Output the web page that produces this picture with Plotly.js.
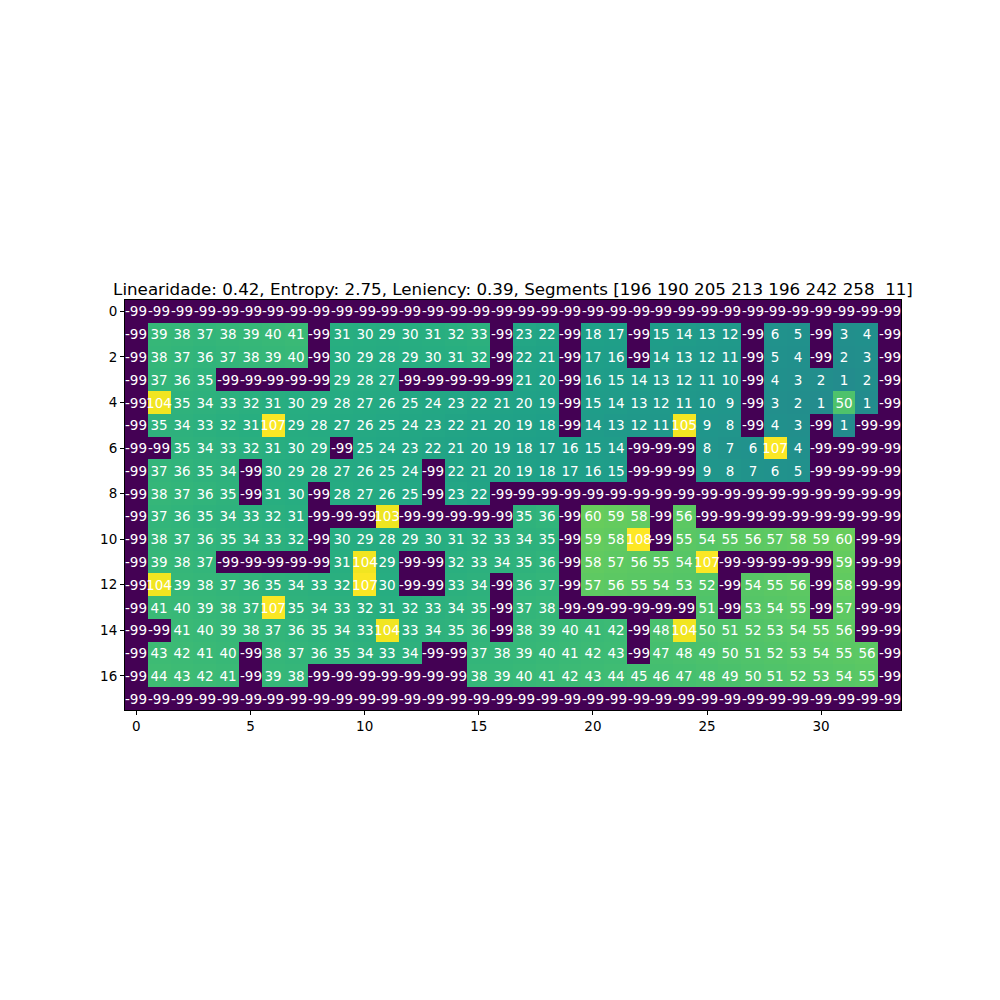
<!DOCTYPE html>
<html>
<head>
<meta charset="utf-8">
<script src="https://cdn.plot.ly/plotly-3.0.1.min.js"></script>
<style>html,body{margin:0;padding:0;background:#fff;}</style>
</head>
<body>
<div id="chart" style="width:1000px;height:1000px;"></div>
<script>
const N = -99;
const row0  = [N,N,N,N,N,N,N,N,N,N,N,N,N,N,N,N,N,N,N,N,N,N,N,N,N,N,N,N,N,N,N,N,N,N];
const row1  = [N,39,38,37,38,39,40,41,N,31,30,29,30,31,32,33,N,23,22,N,18,17,N,15,14,13,12,N,6,5,N,3,4,N];
const row2  = [N,38,37,36,37,38,39,40,N,30,29,28,29,30,31,32,N,22,21,N,17,16,N,14,13,12,11,N,5,4,N,2,3,N];
const row3  = [N,37,36,35,N,N,N,N,N,29,28,27,N,N,N,N,N,21,20,N,16,15,14,13,12,11,10,N,4,3,2,1,2,N];
const row4  = [N,104,35,34,33,32,31,30,29,28,27,26,25,24,23,22,21,20,19,N,15,14,13,12,11,10,9,N,3,2,1,50,1,N];
const row5  = [N,35,34,33,32,31,107,29,28,27,26,25,24,23,22,21,20,19,18,N,14,13,12,11,105,9,8,N,4,3,N,1,N,N];
const row6  = [N,N,35,34,33,32,31,30,29,N,25,24,23,22,21,20,19,18,17,16,15,14,N,N,N,8,7,6,107,4,N,N,N,N];
const row7  = [N,37,36,35,34,N,30,29,28,27,26,25,24,N,22,21,20,19,18,17,16,15,N,N,N,9,8,7,6,5,N,N,N,N];
const row8  = [N,38,37,36,35,N,31,30,N,28,27,26,25,N,23,22,N,N,N,N,N,N,N,N,N,N,N,N,N,N,N,N,N,N];
const row9  = [N,37,36,35,34,33,32,31,N,N,N,103,N,N,N,N,N,35,36,N,60,59,58,N,56,N,N,N,N,N,N,N,N,N];
const row10 = [N,38,37,36,35,34,33,32,N,30,29,28,29,30,31,32,33,34,35,N,59,58,108,N,55,54,55,56,57,58,59,60,N,N];
const row11 = [N,39,38,37,N,N,N,N,N,31,104,29,N,N,32,33,34,35,36,N,58,57,56,55,54,107,N,N,N,N,N,59,N,N];
const row12 = [N,104,39,38,37,36,35,34,33,32,107,30,N,N,33,34,N,36,37,N,57,56,55,54,53,52,N,54,55,56,N,58,N,N];
const row13 = [N,41,40,39,38,37,107,35,34,33,32,31,32,33,34,35,N,37,38,N,N,N,N,N,N,51,N,53,54,55,N,57,N,N];
const row14 = [N,N,41,40,39,38,37,36,35,34,33,104,33,34,35,36,N,38,39,40,41,42,N,48,104,50,51,52,53,54,55,56,N,N];
const row15 = [N,43,42,41,40,N,38,37,36,35,34,33,34,N,N,37,38,39,40,41,42,43,N,47,48,49,50,51,52,53,54,55,56,N];
const row16 = [N,44,43,42,41,N,39,38,N,N,N,N,N,N,N,38,39,40,41,42,43,44,45,46,47,48,49,50,51,52,53,54,55,N];
const row17 = [N,N,N,N,N,N,N,N,N,N,N,N,N,N,N,N,N,N,N,N,N,N,N,N,N,N,N,N,N,N,N,N,N,N];

const zRows = [row0,row1,row2,row3,row4,row5,row6,row7,row8,row9,row10,row11,row12,row13,row14,row15,row16,row17];
const xTicks = [0,5,10,15,20,25,30];
const yTicks = [0,2,4,6,8,10,12,14,16];
const titleText = "Linearidade: 0.42, Entropy: 2.75, Leniency: 0.39, Segments [196 190 205 213 196 242 258  11]";

// cell labels with ASCII hyphen-minus, as in the reference
const cellText = zRows.map(r => r.map(v => String(v)));

const trace = {
  type: 'heatmap',
  z: zRows,
  text: cellText,
  colorscale: 'Viridis',
  zmin: -99,
  zmax: 108,
  showscale: false,
  texttemplate: '%{text}',
  textfont: {family: 'DejaVu Sans', size: 13.5, color: 'white'},
  hoverinfo: 'none',
  xgap: 0, ygap: 0
};

const axisCommon = {
  showgrid: false, zeroline: false,
  showline: true, mirror: true, linecolor: 'black', linewidth: 1,
  ticks: 'outside', ticklen: 4, tickcolor: 'black', tickwidth: 1,
  tickfont: {family: 'DejaVu Sans', size: 13.5, color: 'black'}
};

const layout = {
  width: 1000, height: 1000,
  paper_bgcolor: 'white', plot_bgcolor: 'white',
  margin: {l: 125, r: 99, t: 300, b: 290, pad: 0},
  title: {
    text: titleText,
    font: {family: 'DejaVu Sans', size: 16.7, color: 'black'},
    x: 0.5, xref: 'paper', xanchor: 'center',
    y: 1, yref: 'paper', yanchor: 'bottom', pad: {b: 5}
  },
  xaxis: Object.assign({}, axisCommon, {
    range: [-0.5, 33.5], tickvals: xTicks, ticktext: xTicks.map(String)
  }),
  yaxis: Object.assign({}, axisCommon, {
    range: [17.5, -0.5], tickvals: yTicks, ticktext: yTicks.map(String)
  })
};

Plotly.newPlot('chart', [trace], layout, {staticPlot: true, displayModeBar: false});
</script>
</body>
</html>
